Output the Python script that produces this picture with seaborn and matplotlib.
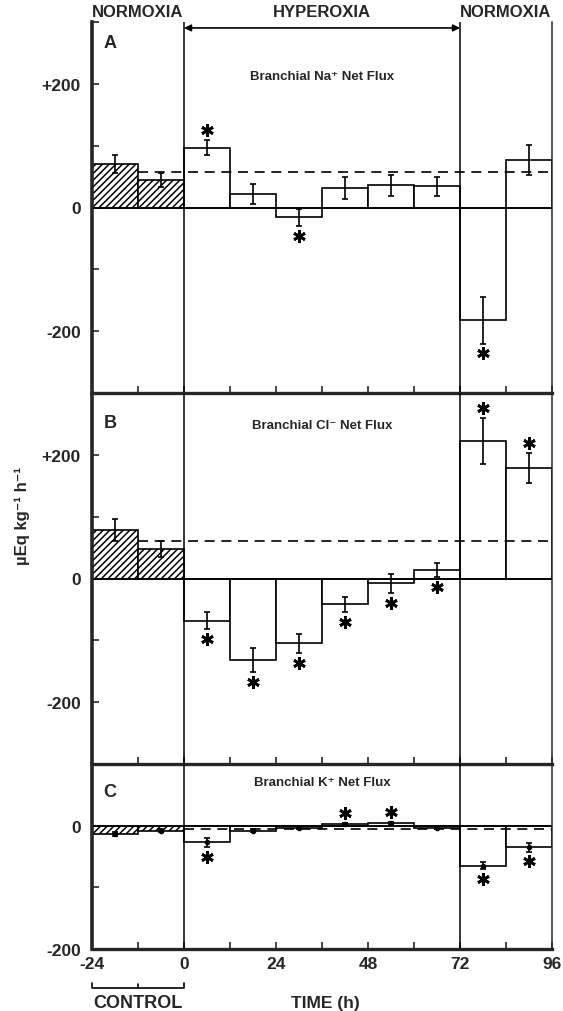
import numpy as np
import pandas as pd
import matplotlib.pyplot as plt
import seaborn as sns

sns.set_style('ticks')
plt.rcParams['font.family'] = ['Liberation Sans', 'DejaVu Sans']
plt.rcParams['font.weight'] = 'bold'
plt.rcParams['hatch.linewidth'] = 1.1

# 12 h sampling periods (mid points), first two are the control periods
time_mid = [-18, -6, 6, 18, 30, 42, 54, 66, 78, 90]
n_control = 2
x_ticks = [-24, -12, 0, 12, 24, 36, 48, 60, 72, 84, 96]
x_labels = ['-24', '', '0', '', '24', '', '48', '', '72', '', '96']

# A: Na+ net flux
na_mean = [70, 44, 97, 22, -16, 31, 36, 34, -182, 77]
na_sem = [15, 11, 12, 16, 14, 18, 17, 16, 38, 24]
na_sig = [0, 0, 1, 0, -1, 0, 0, 0, -1, 0]   # 1 = star above, -1 = below
na_ref = 58

# B: Cl- net flux
cl_mean = [79, 47, -68, -132, -105, -42, -8, 14, 222, 179]
cl_sem = [18, 13, 14, 20, 16, 12, 15, 11, 37, 24]
cl_sig = [0, 0, -1, -1, -1, -1, -1, -1, 1, 1]
cl_ref = 61

# C: K+ net flux
k_mean = [-14, -8, -27, -8, -4, 3, 4, -4, -65, -35]
k_sem = [3, 2, 7, 3, 2, 2, 2, 2, 6, 7]
k_sig = [0, 0, -1, 0, 0, 1, 1, 0, -1, -1]
k_ref = -6

ab_yticks = [-200, -100, 0, 100, 200]
ab_ylabels = ['-200', '', '0', '', '+200']
a_yticks = [-200, -100, 0, 100, 200, 300]
a_ylabels = ['-200', '', '0', '', '+200', '']
c_yticks = [-200, -100, 0]
c_ylabels = ['-200', '', '0']

fig = plt.figure(figsize=(5.63, 10.12), dpi=100)
L, W = 92 / 563, 460 / 563
axA = fig.add_axes([L, 1 - 394 / 1012, W, 371 / 1012])
axB = fig.add_axes([L, 1 - 765 / 1012, W, 371 / 1012])
axC = fig.add_axes([L, 1 - 950 / 1012, W, 185 / 1012])


def draw_panel(ax, mean, sem, sig, ref, ref_start, ylim, yticks, ylabels,
               title, title_y, letter, letter_y, dot):
    ax.set_facecolor('none')
    df = pd.DataFrame({'time': time_mid, 'flux': mean})
    sns.barplot(data=df, x='time', y='flux', native_scale=True, width=1,
                color='white', edgecolor='black', linewidth=1.2,
                errorbar=None, saturation=1, ax=ax)
    for p in ax.patches[:n_control]:
        p.set_hatch('/////')
    ax.errorbar(time_mid, mean, yerr=sem, fmt='o' if dot else 'none',
                color='black', ms=dot, elinewidth=1.2, capsize=2.5,
                capthick=1.2)
    for x, m, s, g in zip(time_mid, mean, sem, sig):
        if g:
            ax.plot(x, m + g * (s + 16), marker=(6, 2, 0), ms=9, mew=2,
                    color='black')
    ax.axhline(0, color='black', lw=1.2, zorder=1)
    ax.hlines(ref, ref_start, 96, colors='black', linestyles=(0, (6, 4)),
              lw=1.2)
    for x in [0, 72]:
        ax.axvline(x, color='black', lw=1.1)
    ax.spines['top'].set_visible(False)
    ax.spines['left'].set_linewidth(2.6)
    ax.spines['bottom'].set_linewidth(2.4)
    ax.spines['right'].set_linewidth(1.1)
    ax.set_xlim(-24, 96)
    ax.set_ylim(*ylim)
    ax.set_xticks(x_ticks, x_labels)
    ax.set_yticks(yticks, ylabels)
    ax.tick_params(direction='in', length=5, width=1.2, labelsize=12.5)
    ax.tick_params(axis='y', pad=8)
    ax.tick_params(axis='x', pad=5)
    ax.set_xlabel('')
    ax.set_ylabel('')
    ax.text(36, title_y, title, transform=ax.get_xaxis_transform(),
            ha='center', va='center', fontsize=9.5)
    ax.text(0.025, letter_y, letter, transform=ax.transAxes,
            ha='left', va='center', fontsize=13)


draw_panel(axA, na_mean, na_sem, na_sig, na_ref, -12, (-300, 300),
           a_yticks, a_ylabels, 'Branchial Na\u207a Net Flux', 0.855,
           'A', 0.946, 0)
draw_panel(axB, cl_mean, cl_sem, cl_sig, cl_ref, -12, (-300, 300),
           ab_yticks, ab_ylabels, 'Branchial Cl\u207b Net Flux', 0.914,
           'B', 0.92, 0)
draw_panel(axC, k_mean, k_sem, k_sig, k_ref, 0, (-200, 100),
           c_yticks, c_ylabels, 'Branchial K\u207a Net Flux', 0.903,
           'C', 0.85, 3)

axA.tick_params(axis='x', labelbottom=False)
axB.tick_params(axis='x', labelbottom=False)

# phase labels on top
xt = axA.get_xaxis_transform()
axA.text(-12, 1.027, 'NORMOXIA', transform=xt, ha='center', va='center', fontsize=12)
axA.text(36, 1.027, 'HYPEROXIA', transform=xt, ha='center', va='center', fontsize=12)
axA.text(84, 1.027, 'NORMOXIA', transform=xt, ha='center', va='center', fontsize=12)
axA.annotate('', xy=(72, 0.984), xytext=(0, 0.984), xycoords=xt,
             textcoords=xt,
             arrowprops=dict(arrowstyle='<|-|>', lw=1.2, color='black',
                             shrinkA=0, shrinkB=0, mutation_scale=10))

# control bracket and x label
xc = axC.get_xaxis_transform()
axC.plot([-24, -24, 0, 0], [-0.185, -0.21, -0.21, -0.185], color='black',
         lw=1.2, transform=xc, clip_on=False)
axC.plot([-12, -12], [-0.21, -0.19], color='black', lw=1.2,
         transform=xc, clip_on=False)
axC.text(-12, -0.29, 'CONTROL', transform=xc, ha='center', va='center',
         fontsize=13)
axC.text(37, -0.29, 'TIME (h)', transform=xc, ha='center', va='center',
         fontsize=12.5)

fig.text(22 / 563, 1 - 516 / 1012, '\u00b5Eq kg\u207b\u00b9 h\u207b\u00b9',
         rotation=90, ha='center', va='center', fontsize=12)

fig.savefig('out.png', dpi=100)
